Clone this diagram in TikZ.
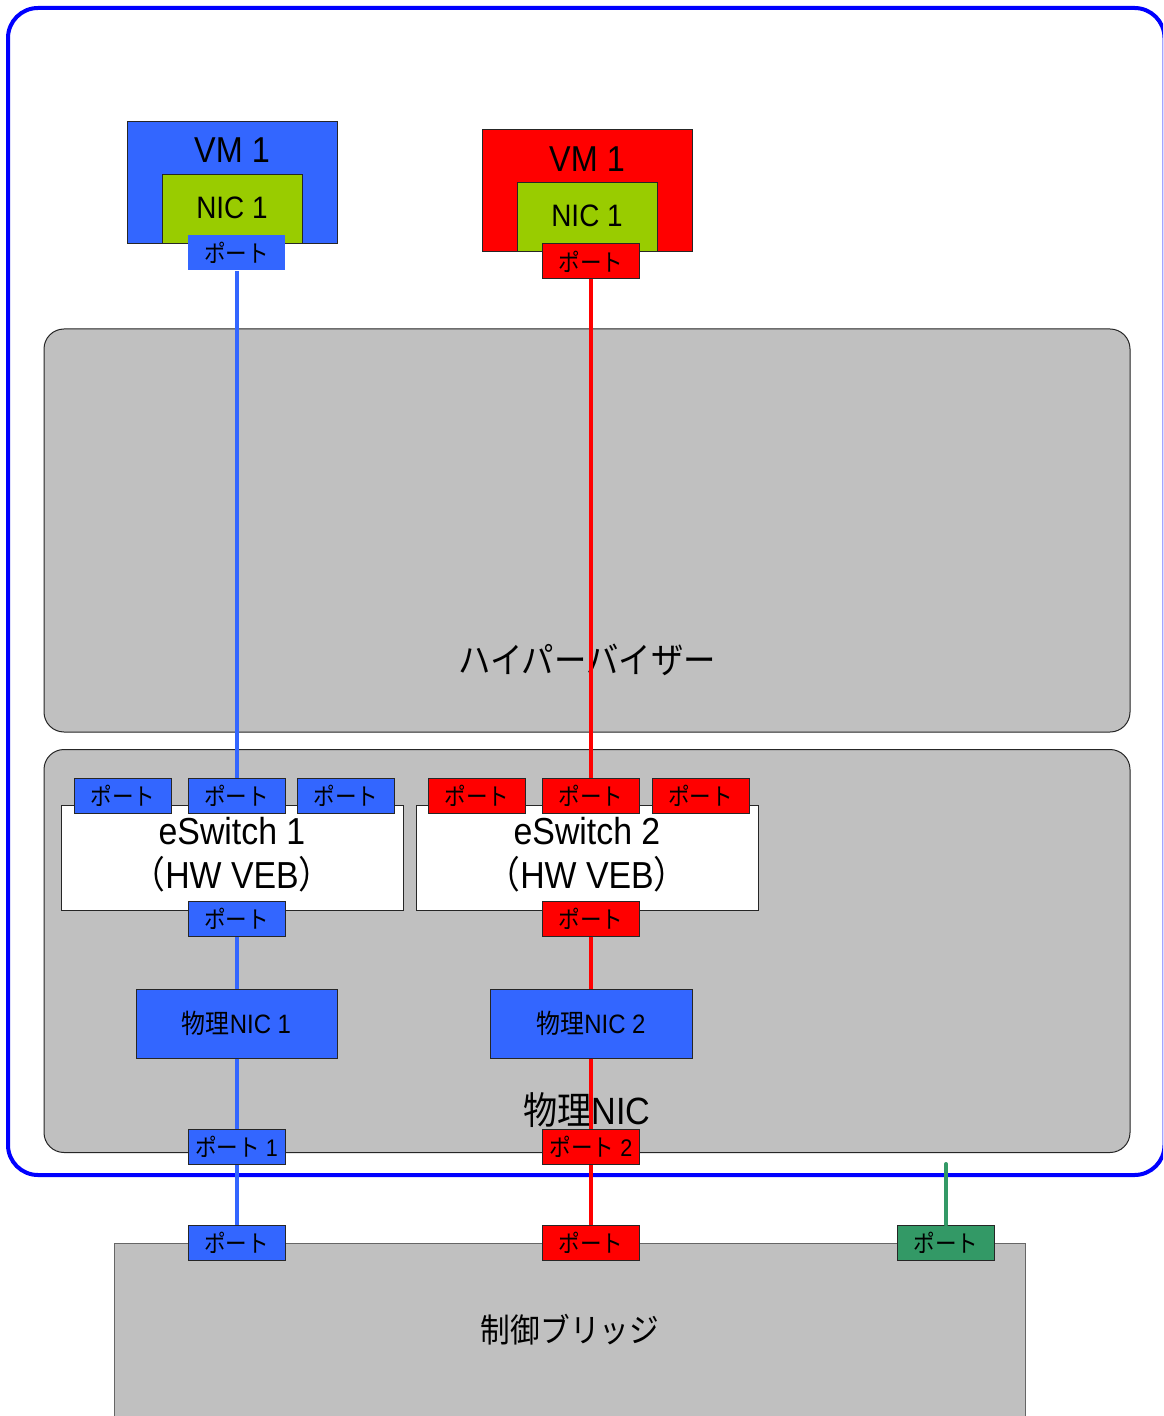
\documentclass[tikz,border=0pt]{standalone}
\usepackage{fontspec}
\setmainfont[FakeStretch=0.9]{Liberation Sans}
\newfontfamily\jp[FakeStretch=0.9]{Noto Sans CJK JP}
\definecolor{cblue}{HTML}{3366FF}
\definecolor{cred}{HTML}{FF0000}
\definecolor{cnic}{HTML}{99CC00}
\definecolor{cgreen}{HTML}{339966}
\definecolor{cgray}{HTML}{C0C0C0}
\definecolor{couter}{HTML}{0000FF}
\tikzset{
  sz/.style 2 args={minimum width=#1*0.5pt, minimum height=#2*0.5pt},
  box/.style={draw=black!85, line width=0.5pt, inner sep=0pt, rectangle},
  port/.style={box, sz={97}{35}, font=\fontsize{12}{14}\selectfont},
  pblue/.style={port, fill=cblue},
  pbluenb/.style={port, fill=cblue, draw=none},
  pred/.style={port, fill=cred},
  pgreen/.style={port, fill=cgreen},
  panel/.style={box, fill=cgray, rounded corners=10pt, sz={1086}{403}},
  txt/.style={inner sep=0pt},
  bline/.style={cblue, line width=2pt},
  rline/.style={cred, line width=2pt},
  gline/.style={cgreen, line width=2pt, line cap=round},
}
\begin{document}
\begin{tikzpicture}[x=0.5pt,y=-0.5pt]
\useasboundingbox (0,0) rectangle (1163,1416);
\clip (0,0) rectangle (1163,1416);
\fill[white] (0,0) rectangle (1163,1416);
% outer frame
\draw[couter, line width=2pt, rounded corners=15pt] (8,8) rectangle (1164.5,1175);
% VMs
\node[box, fill=cblue, sz={210}{122}] (vmA) at (232,183) {};
\node[txt, font=\fontsize{18}{21}\selectfont] (vmAt) at (232,150) {VM 1};
\node[box, fill=cnic, sz={140}{69}] (nicA) at (232,209.5) {};
\node[txt, font=\fontsize{15.5}{18}\selectfont] (nicAt) at (232,208) {NIC 1};
\node[pbluenb] (vpA) at (236.5,253) {\jp ポート};
\node[box, fill=cred, sz={210}{122}] (vmB) at (587,191) {};
\node[txt, font=\fontsize{18}{21}\selectfont] (vmBt) at (587,159) {VM 1};
\node[box, fill=cnic, sz={140}{69}] (nicB) at (587,217.5) {};
\node[txt, font=\fontsize{15.5}{18}\selectfont] (nicBt) at (587,216) {NIC 1};
\node[pred] (vpB) at (591,261.5) {\jp ポート};
% panels
\node[panel] (hyp) at (587,530.5) {};
\node[txt, font=\fontsize{18}{21}\selectfont\jp] (hypt) at (587,660) {ハイパーバイザー};
\node[panel] (pnic) at (587,951) {};
\node[txt, font=\fontsize{19}{22}\selectfont] (pnict) at (587,1110) {{\jp 物理}NIC};
% bridge
\node[box, draw=black!60, fill=cgray, sz={911}{200}] (br) at (569.5,1343) {};
\node[txt, font=\fontsize{16.5}{19}\selectfont\jp] (brt) at (570,1330) {制御ブリッジ};
% eSwitches
\node[box, fill=white, sz={342}{105}] (swA) at (232,857.5) {};
\node[txt, font=\fontsize{18.8}{22}\selectfont, align=center] (swAt) at (232,855) {eSwitch 1\\{\jp （}HW VEB{\jp ）}};
\node[box, fill=white, sz={342}{105}] (swB) at (587,857.5) {};
\node[txt, font=\fontsize{18.8}{22}\selectfont, align=center] (swBt) at (587,855) {eSwitch 2\\{\jp （}HW VEB{\jp ）}};
\node[pblue] (sA1) at (123,796) {\jp ポート};
\node[pblue] (sA2) at (236.5,796) {\jp ポート};
\node[pblue] (sA3) at (346,796) {\jp ポート};
\node[pred] (sB1) at (477,796) {\jp ポート};
\node[pred] (sB2) at (591,796) {\jp ポート};
\node[pred] (sB3) at (700.5,796) {\jp ポート};
\node[pblue] (sAd) at (236.5,918.5) {\jp ポート};
\node[pred] (sBd) at (591,918.5) {\jp ポート};
% physical NICs
\node[box, fill=cblue, sz={201}{69}, font=\fontsize{13.3}{15}\selectfont] (phA) at (236.5,1023.5) {{\jp 物理}NIC 1};
\node[box, fill=cblue, sz={202}{69}, font=\fontsize{13.3}{15}\selectfont] (phB) at (591,1023.5) {{\jp 物理}NIC 2};
\node[pblue] (p1) at (236.5,1146.5) {{\jp ポート} 1};
\node[pred] (p2) at (591,1146.5) {{\jp ポート} 2};
% bridge ports
\node[pblue] (bA) at (236.5,1242.5) {\jp ポート};
\node[pred] (bB) at (591,1242.5) {\jp ポート};
\node[pgreen] (bC) at (946,1242.5) {\jp ポート};
\coordinate (gtop) at (946,1164);
% connectors
\draw[bline] (vpA.south) -- (sA2.north);
\draw[rline] (vpB.south) -- (sB2.north);
\draw[bline] (sAd.south) -- (phA.north);
\draw[rline] (sBd.south) -- (phB.north);
\draw[bline] (phA.south) -- (p1.north);
\draw[rline] (phB.south) -- (p2.north);
\draw[bline] (p1.south) -- (bA.north);
\draw[rline] (p2.south) -- (bB.north);
\draw[gline] (gtop) -- (bC.north);
\end{tikzpicture}
\end{document}
